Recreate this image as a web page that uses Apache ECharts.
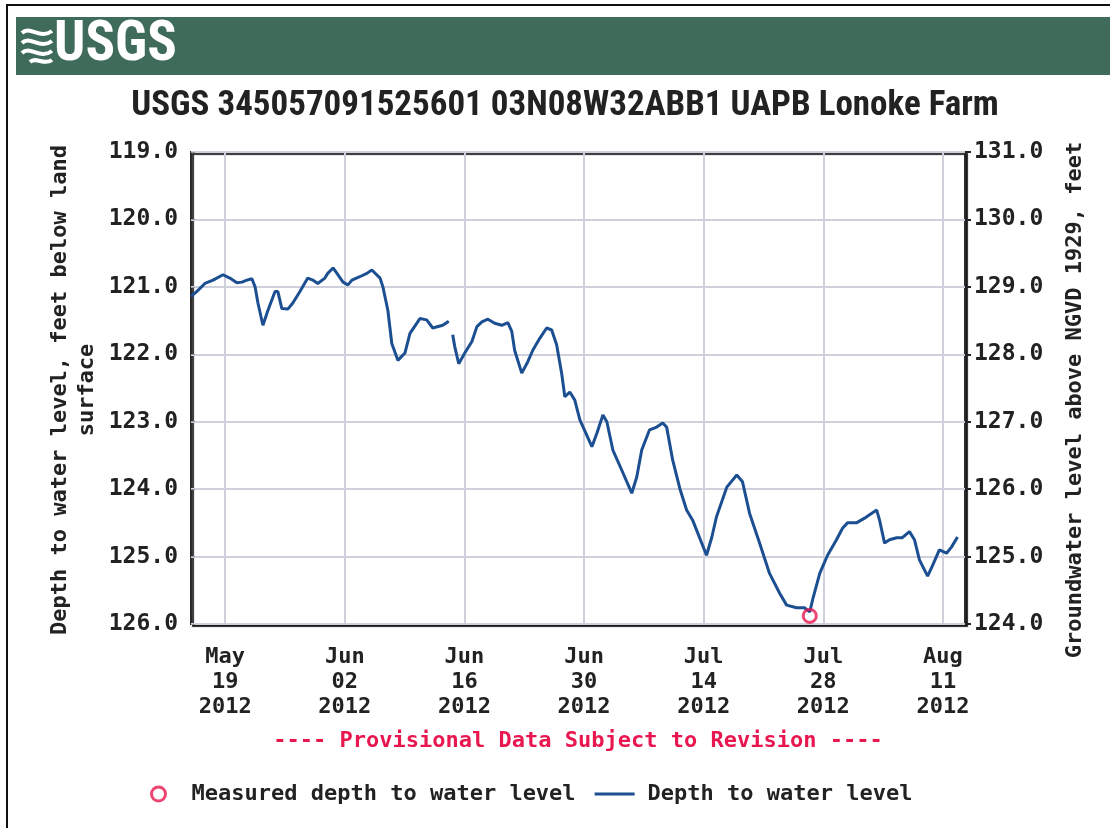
<!DOCTYPE html>
<html>
<head>
<meta charset="utf-8">
<script src="https://cdn.jsdelivr.net/npm/echarts@6/dist/echarts.min.js"></script>
<style>
html,body{margin:0;padding:0;background:#fff;}
#chart{width:1110px;height:828px;}
</style>
</head>
<body>
<div id="chart"></div>
<script>
// ---- Data ----
const times = [
'2012-05-15 00:00','2012-05-15 16:00','2012-05-16 15:00','2012-05-17 14:00','2012-05-18 18:00',
'2012-05-19 13:00','2012-05-20 09:00','2012-05-20 23:00','2012-05-21 13:00','2012-05-22 03:00',
'2012-05-22 12:00','2012-05-22 20:00','2012-05-23 10:00','2012-05-24 00:00','2012-05-24 20:00',
'2012-05-25 04:00','2012-05-25 15:00','2012-05-26 08:00','2012-05-26 22:00','2012-05-27 18:00',
'2012-05-28 16:00','2012-05-29 06:00','2012-05-29 20:00','2012-05-30 16:00','2012-05-31 00:00',
'2012-05-31 15:00','2012-06-01 02:00','2012-06-01 19:00','2012-06-02 09:00','2012-06-02 20:00',
'2012-06-03 18:00','2012-06-04 14:00','2012-06-05 04:00','2012-06-06 03:00','2012-06-06 11:00',
'2012-06-07 01:00','2012-06-07 12:00','2012-06-08 05:00','2012-06-09 01:00','2012-06-09 15:00',
'2012-06-10 19:00','2012-06-11 14:00','2012-06-12 07:00','2012-06-13 11:00','2012-06-14 04:00',
'2012-06-14 10:00',
'2012-06-14 15:00','2012-06-14 21:00','2012-06-15 08:00','2012-06-16 01:00','2012-06-16 21:00',
'2012-06-17 11:00','2012-06-18 01:00','2012-06-18 18:00','2012-06-19 13:00','2012-06-20 09:00',
'2012-06-21 02:00','2012-06-21 13:00','2012-06-21 21:00','2012-06-22 17:00','2012-06-23 10:00',
'2012-06-24 00:00','2012-06-24 20:00','2012-06-25 15:00','2012-06-26 05:00','2012-06-26 19:00',
'2012-06-27 09:00','2012-06-27 18:00','2012-06-28 08:00','2012-06-28 22:00','2012-06-29 12:00',
'2012-06-30 22:00','2012-07-01 12:00','2012-07-02 05:00','2012-07-02 16:00','2012-07-03 09:00',
'2012-07-04 10:00','2012-07-05 14:00','2012-07-06 04:00','2012-07-06 18:00','2012-07-07 16:00',
'2012-07-08 12:00','2012-07-09 05:00','2012-07-09 16:00','2012-07-10 09:00','2012-07-11 05:00',
'2012-07-12 00:00','2012-07-12 17:00','2012-07-14 08:00','2012-07-14 23:00','2012-07-15 12:00',
'2012-07-16 17:00','2012-07-17 21:00','2012-07-18 13:00','2012-07-19 09:00','2012-07-20 13:00',
'2012-07-21 17:00','2012-07-22 21:00','2012-07-23 17:00','2012-07-24 21:00','2012-07-25 19:00',
'2012-07-26 10:00','2012-07-26 18:00','2012-07-27 14:00','2012-07-28 12:00','2012-07-29 13:00',
'2012-07-30 06:00','2012-07-30 20:00','2012-07-31 21:00','2012-08-01 20:00','2012-08-02 10:00',
'2012-08-03 06:00','2012-08-03 14:00','2012-08-04 04:00','2012-08-04 18:00','2012-08-05 14:00',
'2012-08-06 06:00','2012-08-07 02:00','2012-08-07 16:00','2012-08-08 06:00','2012-08-09 05:00',
'2012-08-09 19:00','2012-08-10 14:00','2012-08-11 10:00','2012-08-12 00:00','2012-08-12 17:00'
];
const depths = [
121.14,121.07,120.95,120.90,120.82,
120.87,120.94,120.93,120.90,120.88,
121.00,121.24,121.57,121.35,121.07,
121.07,121.32,121.33,121.24,121.07,
120.87,120.90,120.95,120.87,120.80,
120.72,120.80,120.93,120.97,120.90,
120.85,120.80,120.75,120.87,121.00,
121.35,121.84,122.09,121.98,121.69,
121.47,121.49,121.61,121.57,121.51,
null,
121.71,121.89,122.14,121.98,121.81,
121.59,121.52,121.48,121.54,121.57,
121.53,121.66,121.94,122.28,122.11,
121.94,121.76,121.61,121.64,121.86,
122.28,122.63,122.56,122.68,122.97,
123.37,123.17,122.90,123.00,123.42,
123.72,124.06,123.82,123.42,123.12,
123.08,123.02,123.08,123.57,123.99,
124.31,124.46,124.98,124.71,124.41,
123.97,123.79,123.89,124.36,124.80,
125.25,125.54,125.72,125.76,125.76,
125.82,125.64,125.25,124.98,124.75,
124.58,124.50,124.50,124.43,124.38,
124.31,124.46,124.80,124.75,124.72,
124.72,124.63,124.75,125.05,125.29,
125.13,124.90,124.95,124.86,124.71
];
const measuredTimes = ['2012-07-26 10:00'];
const measuredDepths = [125.88];
const xTickDates = ['2012-05-19','2012-06-02','2012-06-16','2012-06-30','2012-07-14','2012-07-28','2012-08-11'];
const xMin = '2012-05-15 00:00';
const xMax = '2012-08-13 14:00';
const leftTicks = [119, 120, 121, 122, 123, 124, 125, 126];
const rightTicks = [124, 125, 126, 127, 128, 129, 130, 131];

// ---- Helpers ----
function ts(s) {
  const parts = s.split(' ');
  const d = parts[0].split('-').map(Number);
  const t = (parts[1] || '00:00').split(':').map(Number);
  return new Date(d[0], d[1] - 1, d[2], t[0], t[1]).getTime();
}
const MONTHS = ['Jan','Feb','Mar','Apr','May','Jun','Jul','Aug','Sep','Oct','Nov','Dec'];
const MONO = "'DejaVu Sans Mono', 'Liberation Mono', monospace";
const NARROW = "'Liberation Sans Narrow', 'Roboto Condensed', 'Liberation Sans', sans-serif";
const GRIDC = '#cfd0dc';
const BLUE = '#1c4f91';
const RED = '#e8174f';
const TXT = '#222';

const lineData = times.map((t, i) => [ts(t), depths[i]]);
const measuredData = measuredTimes.map((t, i) => [ts(t), measuredDepths[i]]);
const tickValues = xTickDates.map(ts);

function wave(x1, y1, x2, y2, c1x, c1y, c2x, c2y) {
  return { type: 'bezierCurve', z: 11,
    shape: { x1: x1, y1: y1, x2: x2, y2: y2, cpx1: c1x, cpy1: c1y, cpx2: c2x, cpy2: c2y },
    style: { stroke: '#fff', lineWidth: 4, fill: null } };
}

const chart = echarts.init(document.getElementById('chart'), null, { renderer: 'canvas' });
const option = {
  animation: false,
  backgroundColor: '#fff',
  grid: {
    left: 191, right: 145, top: 152, bottom: 204,
    show: true, backgroundColor: '#fff',
    borderColor: '#2a2a2a', borderWidth: 2,
    shadowColor: 'rgba(20,20,20,0.9)', shadowOffsetX: 2, shadowOffsetY: 2, shadowBlur: 1
  },
  xAxis: {
    type: 'value',
    min: ts(xMin), max: ts(xMax),
    axisLine: { show: false },
    axisTick: { show: false, customValues: tickValues },
    axisLabel: {
      customValues: tickValues,
      hideOverlap: false,
      formatter: function (v) {
        const d = new Date(v);
        const dd = d.getDate() < 10 ? '0' + d.getDate() : '' + d.getDate();
        return MONTHS[d.getMonth()] + '\n' + dd + '\n' + d.getFullYear();
      },
      fontFamily: MONO, fontWeight: 'bold', fontSize: 22, lineHeight: 25,
      color: TXT, margin: 21
    },
    splitLine: { show: true, lineStyle: { color: GRIDC, width: 2 } }
  },
  yAxis: [
    {
      type: 'value', inverse: true, min: leftTicks[0], max: leftTicks[leftTicks.length - 1], interval: 1,
      position: 'left',
      axisLine: { show: false },
      axisTick: { show: true, inside: true, length: 4, lineStyle: { color: '#999' } },
      axisLabel: {
        formatter: v => v.toFixed(1),
        fontFamily: MONO, fontWeight: 'bold', fontSize: 23, color: TXT, margin: 13
      },
      splitLine: { show: true, lineStyle: { color: GRIDC, width: 2 } }
    },
    {
      type: 'value', min: rightTicks[0], max: rightTicks[rightTicks.length - 1], interval: 1,
      position: 'right',
      axisLine: { show: false },
      axisTick: { show: true, inside: false, length: 6, lineStyle: { color: '#222', width: 2 } },
      axisLabel: {
        formatter: v => v.toFixed(1),
        fontFamily: MONO, fontWeight: 'bold', fontSize: 23, color: TXT, margin: 9
      },
      splitLine: { show: false }
    }
  ],
  legend: {
    left: 145, top: 778,
    itemWidth: 40, itemHeight: 14, itemGap: 19,
    selectedMode: false,
    textStyle: { fontFamily: MONO, fontWeight: 'bold', fontSize: 22, color: TXT, lineHeight: 22,
      padding: [0, 0, 0, 8] },
    data: [
      { name: 'Measured depth to water level', icon: 'circle',
        itemStyle: { color: '#fff', borderColor: RED, borderWidth: 3 } },
      { name: 'Depth to water level', icon: 'path://M0,0H40V3H0Z',
        itemStyle: { color: BLUE } }
    ]
  },
  series: [
    {
      name: 'Depth to water level',
      type: 'line',
      yAxisIndex: 0,
      data: lineData,
      showSymbol: false,
      connectNulls: false,
      lineStyle: { color: BLUE, width: 3 },
      itemStyle: { color: BLUE },
      z: 3
    },
    {
      name: 'Measured depth to water level',
      type: 'scatter',
      yAxisIndex: 0,
      data: measuredData,
      symbol: 'circle',
      symbolSize: 13,
      itemStyle: { color: 'rgba(255,255,255,0)', borderColor: RED, borderWidth: 3 },
      z: 5
    }
  ],
  graphic: [
    { type: 'polyline', shape: { points: [[7, 828], [7, 5], [1110, 5]] },
      style: { stroke: '#111', lineWidth: 2, fill: null }, z: 10 },
    { type: 'rect', shape: { x: 16, y: 17, width: 1094, height: 58 },
      style: { fill: '#3f6b5a' }, z: 10 },
    wave(22, 33, 52, 31, 30, 25, 40, 40),
    wave(22, 43, 52, 41, 30, 35, 40, 50),
    wave(22, 53, 52, 51, 30, 45, 40, 60),
    wave(30, 62, 52, 60, 36, 56, 44, 66),
    { type: 'text', x: 54, y: 46, z: 11,
      style: { text: 'USGS', fill: '#fff', font: "bold 55px " + NARROW, align: 'left', verticalAlign: 'middle' } },
    { type: 'text', x: 565, y: 106, z: 11,
      style: { text: 'USGS 345057091525601 03N08W32ABB1 UAPB Lonoke Farm', fill: '#222',
        font: "bold 35px " + NARROW, align: 'center', verticalAlign: 'middle' } },
    { type: 'text', x: 74, y: 390, rotation: Math.PI / 2, z: 11,
      style: { text: 'Depth to water level, feet below land\nsurface', fill: TXT,
        font: "bold 22px " + MONO, lineHeight: 27, align: 'center', verticalAlign: 'middle' } },
    { type: 'text', x: 1075, y: 400, rotation: Math.PI / 2, z: 11,
      style: { text: 'Groundwater level above NGVD 1929, feet', fill: TXT,
        font: "bold 22px " + MONO, align: 'center', verticalAlign: 'middle' } },
    { type: 'text', x: 578, y: 741, z: 11,
      style: { text: '---- Provisional Data Subject to Revision ----', fill: RED,
        font: "bold 22px " + MONO, align: 'center', verticalAlign: 'middle' } }
  ]
};
chart.setOption(option);
</script>
</body>
</html>
